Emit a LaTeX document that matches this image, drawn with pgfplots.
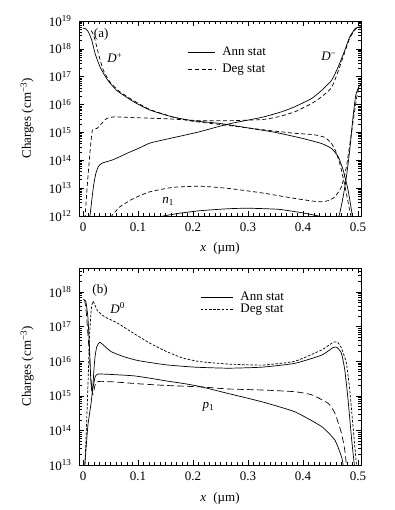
\documentclass[border=0pt]{standalone}
\usepackage{fontspec}
\setmainfont{Liberation Serif}
\usepackage{pgfplots}
\pgfplotsset{compat=1.18}
\tikzset{
 dashA/.style={dash pattern=on 4pt off 2.6pt},
 dashS/.style={dash pattern=on 2.6pt off 1.6pt},
 dashL/.style={dash pattern=on 6.5pt off 3.5pt},
}
\newcommand{\fs}{\fontsize{13}{15}\selectfont}
\pgfplotsset{
 myax/.style={
  scale only axis, width=282pt,
  xmin=-0.0073, xmax=0.5055,
  tick align=inside,
  major tick length=5pt, minor tick length=2.8pt,
  xtick={0,0.1,0.2,0.3,0.4,0.5},
  xticklabels={0,0.1,0.2,0.3,0.4,0.5},
  minor x tick num=9,
  every tick/.style={black, line width=0.5pt},
  axis line style={line width=0.6pt},
  tick label style={font=\fs},
  xticklabel style={yshift=-3pt},
  yticklabel style={xshift=-4pt},
  every axis label/.append style={font=\fs},
  legend style={draw=none, fill=none, font=\fs, inner sep=2pt, nodes={inner sep=0.5pt}},
  legend cell align=left,
  every axis plot/.append style={black, line width=0.7pt, line join=round, smooth, tension=0.3},
  xlabel={\textit{x}\;\;(µm)},
  ylabel={Charges (cm\textsuperscript{−3})},
  every axis y label/.style={at={(axis description cs:-0.184,0.5)},anchor=center,rotate=90},
 },
}
\begin{document}
\begin{tikzpicture}
\path[use as bounding box] (0pt,0pt) rectangle (395pt,510pt);
% ---------------- panel (a)
\begin{semilogyaxis}[myax, at={(79pt,294pt)}, anchor=south west, height=195pt,
 ymin=1e12, ymax=1e19,
 ytick={1e12,1e13,1e14,1e15,1e16,1e17,1e18,1e19},
 yticklabels={10\textsuperscript{12},10\textsuperscript{13},10\textsuperscript{14},10\textsuperscript{15},10\textsuperscript{16},10\textsuperscript{17},10\textsuperscript{18},10\textsuperscript{19}},
 minor ytick={2e12,3e12,4e12,5e12,6e12,7e12,8e12,9e12,2e13,3e13,4e13,5e13,6e13,7e13,8e13,9e13,2e14,3e14,4e14,5e14,6e14,7e14,8e14,9e14,2e15,3e15,4e15,5e15,6e15,7e15,8e15,9e15,2e16,3e16,4e16,5e16,6e16,7e16,8e16,9e16,2e17,3e17,4e17,5e17,6e17,7e17,8e17,9e17,2e18,3e18,4e18,5e18,6e18,7e18,8e18,9e18},
 every axis x label/.style={at={(axis description cs:0.5,-0.164)},anchor=center},
 legend style={at={(rel axis cs:0.379,0.879)}, anchor=north west, row sep=6pt},
 legend image code/.code={\draw[#1] (0pt,0pt) -- (27pt,0pt); \path (33pt,0pt);},
]
\addlegendimage{black, line width=0.7pt}\addlegendentry{Ann stat}
\addlegendimage{black, line width=0.7pt, dash pattern=on 4pt off 2.6pt}\addlegendentry{Deg stat}
% D+ Ann
\addplot[forget plot] coordinates {(0,5.5e18)(0.005,5.25e18)(0.010,3.98e18)(0.016,2.0e18)(0.022,6.76e17)(0.031,2.24e17)(0.043,8.51e16)(0.061,3.24e16)(0.092,1.26e16)(0.122,6.31e15)(0.164,3.55e15)(0.2,2.63e15)(0.25,2.09e15)(0.3,1.45e15)(0.35,1.0e15)(0.4,6.03e14)(0.434,3.98e14)(0.452,2.63e14)(0.464,1.35e14)(0.473,4.47e13)(0.482,8.51e12)(0.489,1.26e12)(0.4905,7.9e11)};
% D- Ann
\addplot[forget plot] coordinates {(0.012,7.9e11)(0.015,2.51e12)(0.019,1.15e13)(0.023,3.16e13)(0.028,6.03e13)(0.035,7.94e13)(0.055,1.05e14)(0.08,1.78e14)(0.1,2.63e14)(0.122,4.17e14)(0.15,5.62e14)(0.18,7.59e14)(0.213,1.07e15)(0.264,2.0e15)(0.325,3.47e15)(0.361,5.5e15)(0.385,8.32e15)(0.416,1.66e16)(0.434,3.24e16)(0.452,7.41e16)(0.464,2.24e17)(0.476,8.91e17)(0.485,2.69e18)(0.495,5.37e18)(0.505,6.31e18)};
% n1 Ann
\addplot[forget plot] coordinates {(0.14,8.9e11)(0.146,1e12)(0.176,1.26e12)(0.213,1.55e12)(0.264,1.82e12)(0.3,1.9e12)(0.355,1.74e12)(0.397,1.32e12)(0.428,1e12)(0.44,7.9e11)(0.455,7.1e11)(0.462,7.9e11)(0.466,1.07e12)(0.473,4.9e12)(0.479,2.57e13)(0.485,2.34e14)(0.491,3.63e15)(0.496,2.19e16)(0.502,4.57e16)(0.506,5.25e16)};
% D+ Deg
\addplot[forget plot, dashA] coordinates {(0.015,4.5e18)(0.018,3.5e18)(0.022,2.04e18)(0.028,6.76e17)(0.037,1.7e17)(0.049,6.46e16)(0.067,2.88e16)(0.092,1.38e16)(0.122,6.6e15)(0.164,3.55e15)(0.2,2.51e15)(0.264,1.78e15)(0.325,1.26e15)(0.385,9.3e14)(0.42,8.3e14)(0.44,6.6e14)(0.452,3.98e14)(0.46,2.0e14)(0.468,6.3e13)(0.475,1.58e13)(0.482,3.16e12)(0.487,1e12)(0.489,5e11)};
% D- Deg
\addplot[forget plot, dashA] coordinates {(0.0035,7.9e11)(0.008,1.48e13)(0.013,2.29e14)(0.017,1.2e15)(0.025,1.38e15)(0.034,2.09e15)(0.043,3.16e15)(0.058,3.63e15)(0.092,3.39e15)(0.152,3.09e15)(0.213,2.63e15)(0.264,2.63e15)(0.325,2.88e15)(0.355,3.63e15)(0.385,5.5e15)(0.416,1.1e16)(0.434,1.91e16)(0.452,4.07e16)(0.464,1.58e17)(0.476,7.6e17)(0.485,2.4e18)(0.495,5.0e18)(0.505,6.0e18)};
% n1 Deg
\addplot[forget plot, dashA] coordinates {(0.05,8.9e11)(0.052,1e12)(0.067,2.14e12)(0.092,4.27e12)(0.122,7.41e12)(0.164,1.07e13)(0.213,1.17e13)(0.264,9.8e12)(0.325,6.76e12)(0.385,4.27e12)(0.428,3.24e12)(0.446,3.55e12)(0.458,4.9e12)(0.47,1.12e13)(0.479,5.9e13)(0.488,9.1e14)(0.495,8.3e15)(0.5,3.16e16)(0.505,5.6e16)};
\node[font=\fs] at (axis cs:0.033,3.2e18) {(a)};
\node[font=\fs] at (axis cs:0.058,4.6e17) {\textit{D}\textsuperscript{+}};
\node[font=\fs] at (axis cs:0.447,5.2e17) {\textit{D}\textsuperscript{−}};
\node[font=\fs] at (axis cs:0.155,3.3e12) {\textit{n}\textsubscript{1}};
\end{semilogyaxis}
% ---------------- panel (b)
\begin{semilogyaxis}[myax, at={(79pt,45pt)}, anchor=south west, height=197pt,
 ymin=1e13, ymax=5e18,
 ytick={1e13,1e14,1e15,1e16,1e17,1e18},
 yticklabels={10\textsuperscript{13},10\textsuperscript{14},10\textsuperscript{15},10\textsuperscript{16},10\textsuperscript{17},10\textsuperscript{18}},
 minor ytick={2e13,3e13,4e13,5e13,6e13,7e13,8e13,9e13,2e14,3e14,4e14,5e14,6e14,7e14,8e14,9e14,2e15,3e15,4e15,5e15,6e15,7e15,8e15,9e15,2e16,3e16,4e16,5e16,6e16,7e16,8e16,9e16,2e17,3e17,4e17,5e17,6e17,7e17,8e17,9e17,2e18,3e18,4e18},
 every axis x label/.style={at={(axis description cs:0.5,-0.1675)},anchor=center},
 legend style={at={(rel axis cs:0.422,0.891)}, anchor=north west, row sep=1pt},
 legend image code/.code={\draw[#1] (0pt,0pt) -- (32pt,0pt); \path (39pt,0pt);},
]
\addlegendimage{black, line width=0.7pt}\addlegendentry{Ann stat}
\addlegendimage{black, line width=0.7pt, dash pattern=on 2.6pt off 1.6pt}\addlegendentry{Deg stat}
% D0 Deg
\addplot[forget plot, dashS] coordinates {(0.003,7.9e12)(0.004,1.58e13)(0.007,2.51e14)(0.010,6.31e15)(0.012,6.31e16)(0.015,3.16e17)(0.018,5.5e17)(0.021,4.47e17)(0.027,2.82e17)(0.04,1.91e17)(0.061,1.32e17)(0.092,6.46e16)(0.122,3.31e16)(0.152,1.91e16)(0.182,1.23e16)(0.213,9.77e15)(0.264,8.32e15)(0.325,7.76e15)(0.385,1e16)(0.434,2.14e16)(0.455,3.55e16)(0.463,3.55e16)(0.47,2.4e16)(0.479,8.71e15)(0.485,1.48e15)(0.491,1.29e14)(0.497,1.12e13)(0.498,7.9e12)};
% D0 Ann
\addplot[forget plot] coordinates {(0.003,8.9e12)(0.006,3.8e13)(0.009,1.45e14)(0.015,6.76e14)(0.018,2.0e15)(0.02,6.31e15)(0.022,1.41e16)(0.025,2.63e16)(0.03,3.55e16)(0.035,3.16e16)(0.051,1.91e16)(0.073,1.38e16)(0.1,1.05e16)(0.15,7.94e15)(0.204,6.76e15)(0.264,6.31e15)(0.325,6.76e15)(0.385,8.71e15)(0.434,1.51e16)(0.455,2.51e16)(0.462,2.51e16)(0.47,1.7e16)(0.476,5.62e15)(0.482,7.59e14)(0.488,6.61e13)(0.493,1.12e13)(0.494,7.9e12)};
% p1 Ann
\addplot[forget plot] coordinates {(0,6.03e17)(0.005,5.5e17)(0.009,1.78e17)(0.012,2.0e16)(0.014,3.16e15)(0.016,1.41e15)(0.019,2.0e15)(0.022,3.55e15)(0.027,4.27e15)(0.05,4.17e15)(0.092,3.8e15)(0.122,3.24e15)(0.152,2.69e15)(0.182,2.29e15)(0.213,1.86e15)(0.264,1.17e15)(0.325,6.76e14)(0.385,3.47e14)(0.434,1.29e14)(0.458,5.25e13)(0.47,1.74e13)(0.473,1e13)(0.474,7.9e12)};
% p1 Deg
\addplot[forget plot, dashL] coordinates {(0.003,6.03e17)(0.006,2.51e17)(0.009,5.75e16)(0.012,1.26e16)(0.014,3.98e15)(0.016,1.58e15)(0.018,1.07e15)(0.021,1.78e15)(0.024,2.51e15)(0.033,2.63e15)(0.06,2.51e15)(0.1,2.24e15)(0.15,2.0e15)(0.213,1.82e15)(0.264,1.58e15)(0.325,1.48e15)(0.385,1.32e15)(0.416,1.07e15)(0.446,6.03e14)(0.458,3.16e14)(0.47,8.32e13)(0.476,2.69e13)(0.479,1e13)(0.48,7.9e12)};
\node[font=\fs] at (axis cs:0.031,1.15e18) {(b)};
\node[font=\fs] at (axis cs:0.063,3.5e17) {\textit{D}\textsuperscript{0}};
\node[font=\fs] at (axis cs:0.228,4.9e14) {\textit{p}\textsubscript{1}};
\end{semilogyaxis}
\end{tikzpicture}
\end{document}
